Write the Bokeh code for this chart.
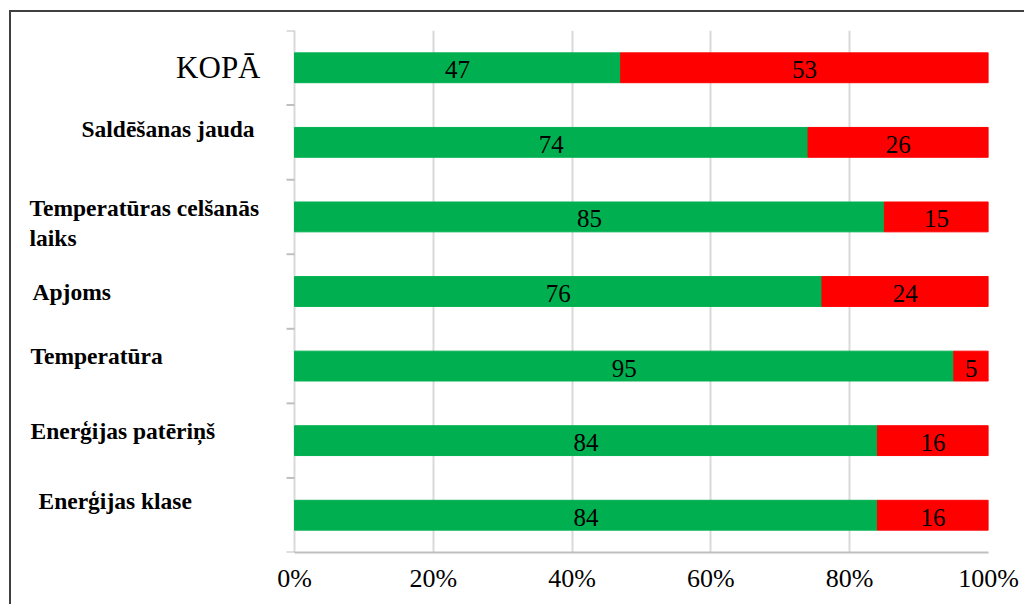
from bokeh.plotting import figure
from bokeh.models import Range1d, FixedTicker, ColumnDataSource
from bokeh.core.properties import value
from bokeh.embed import file_html
from bokeh.resources import INLINE

# ---- data ----
categories = ["KOPĀ", "Saldēšanas jauda", "Temperatūras celšanās\nlaiks", "Apjoms",
              "Temperatūra", "Enerģijas patēriņš", "Enerģijas klase"]
green_values = [47, 74, 85, 76, 95, 84, 84]
red_values = [53, 26, 15, 24, 5, 16, 16]
x_ticks = [0, 20, 40, 60, 80, 100]
x_tick_labels = ["0%", "20%", "40%", "60%", "80%", "100%"]

# ---- styles ----
GREEN = "#00B050"
RED = "#FF0000"
GRID = "#D9D9D9"
AXIS = "#BFBFBF"
SERIF = "Liberation Serif"
label_x_offset = [-34, -213, -265, -262, -264, -264, -256]
label_y_offset = [0, -13, 6, 0, -10, -10, -14]

n = len(categories)
ys = [n - 1 - i for i in range(n)]
totals = [g + r for g, r in zip(green_values, red_values)]

src = ColumnDataSource(dict(
    y=ys, cat=categories, g=green_values, r=red_values, tot=totals,
    gmid=[g / 2 for g in green_values],
    rmid=[g + r / 2 for g, r in zip(green_values, red_values)],
    gtxt=[str(g) for g in green_values], rtxt=[str(r) for r in red_values],
))

p = figure(width=1015, height=594,
           x_range=Range1d(-40.78, 100), y_range=Range1d(-0.5, n - 0.5),
           output_backend="svg", toolbar_location=None, y_axis_location=None,
           min_border_left=0, min_border_right=38, min_border_top=18, min_border_bottom=54,
           background_fill_color="white", border_fill_color="white")
p.outline_line_color = None
p.styles = {"margin-left": "9px", "margin-top": "10px",
            "border-left": "2px solid #404040", "border-top": "2px solid #404040"}

p.xgrid.ticker = FixedTicker(ticks=x_ticks)
p.xgrid.grid_line_color = GRID
p.xgrid.grid_line_width = 2
p.ygrid.visible = False

ax = p.xaxis[0]
ax.ticker = FixedTicker(ticks=x_ticks)
ax.major_label_overrides = {t: l for t, l in zip(x_ticks, x_tick_labels)}
ax.bounds = (0, 100)
ax.axis_line_color = AXIS
ax.axis_line_width = 2
ax.major_tick_line_color = None
ax.major_tick_out = 0
ax.minor_tick_line_color = None
ax.major_label_standoff = 11
ax.major_label_text_font = SERIF
ax.major_label_text_font_size = "26px"
ax.major_label_text_color = "black"

# category boundary ticks on the left side
bounds = [i - 0.5 for i in range(n + 1)]
p.ray(x=[0] * len(bounds), y=bounds, length=8, angle=3.14159265, length_units="screen",
      line_color=AXIS, line_width=2)

p.hbar(y="y", left=0, right="g", height=0.4, source=src, fill_color=GREEN, line_color=GREEN)
p.hbar(y="y", left="g", right="tot", height=0.4, source=src, fill_color=RED, line_color=RED)

p.text(x="gmid", y="y", text="gtxt", source=src, text_align="center", text_baseline="middle",
       y_offset=2, text_font=value(SERIF), text_font_size="25px", text_color="black")
p.text(x="rmid", y="y", text="rtxt", source=src, text_align="center", text_baseline="middle",
       y_offset=2, text_font=value(SERIF), text_font_size="25px", text_color="black")

# category labels
top = ColumnDataSource(dict(x=[0], y=ys[:1], t=categories[:1], xo=label_x_offset[:1], yo=label_y_offset[:1]))
rest = ColumnDataSource(dict(x=[0] * (n - 1), y=ys[1:], t=categories[1:],
                             xo=label_x_offset[1:], yo=label_y_offset[1:]))
p.text(x="x", y="y", text="t", source=top, x_offset="xo", y_offset="yo",
       text_align="right", text_baseline="middle", text_font=value(SERIF),
       text_font_size="31px", text_color="black")
p.text(x="x", y="y", text="t", source=rest, x_offset="xo", y_offset="yo",
       text_align="left", text_baseline="middle", text_font=value(SERIF),
       text_font_size="23.5px", text_font_style="bold", text_color="black",
       text_line_height=1.15)

open("out.html", "w").write(file_html(p, INLINE))
